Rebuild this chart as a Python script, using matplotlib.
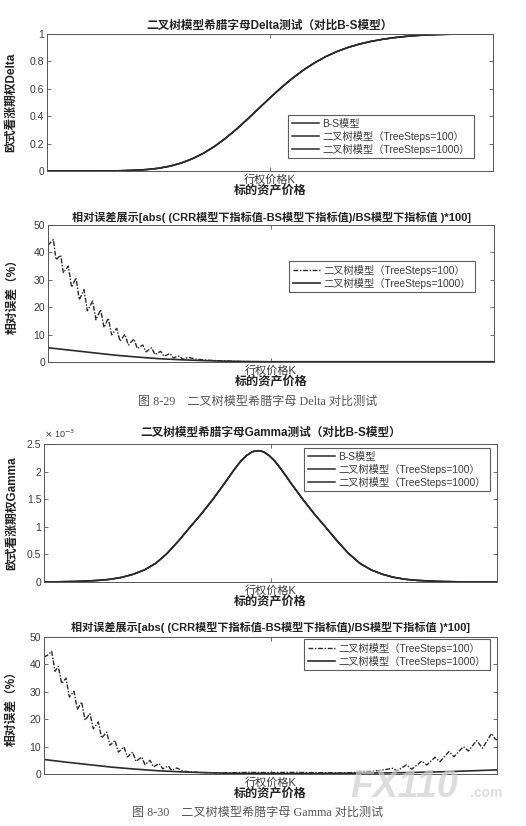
import matplotlib
matplotlib.use("Agg")
import matplotlib.pyplot as plt

plt.rcParams['font.family'] = ['Liberation Sans', 'Noto Sans CJK SC', 'DejaVu Sans']
plt.rcParams['axes.unicode_minus'] = False

# ---------------- data ----------------
# underlying price axis: 0..100, strike K at 50
delta_x = [0, 10, 15, 17.5, 20, 22.5, 25, 27.5, 30, 32.5, 35, 37.5, 40, 42.5, 45, 47.5,
           50, 52.5, 55, 57.5, 60, 62.5, 65, 67.5, 70, 72.5, 75, 77.5, 80, 82.5, 85, 87.5,
           90, 95, 100]
delta_bs = [0, 0, 0.001, 0.003, 0.006, 0.011, 0.02, 0.035, 0.057, 0.088, 0.128, 0.178, 0.238,
            0.306, 0.38, 0.457, 0.534, 0.608, 0.676, 0.737, 0.79, 0.835, 0.872, 0.902, 0.926,
            0.945, 0.96, 0.972, 0.981, 0.988, 0.993, 0.996, 0.998, 1.0, 1.0]
delta_tree100 = list(delta_bs)
delta_tree1000 = list(delta_bs)

err_delta_100_x = [0, 1.2, 1.8, 2.84, 3.44, 4.56, 5.3, 6.28, 7.03, 8.07, 8.82, 10.0, 10.76, 11.8,
                   12.56, 13.53, 14.27, 15.4, 16.14, 17.26, 18.01, 19.28, 20.03, 21.23, 21.97,
                   23.24, 23.99, 25.26, 26.01, 27.35, 28.1, 29.45, 30.2, 31.46, 33.3, 35.6, 37.8,
                   43, 50, 60, 70, 80, 90, 100]
err_delta_100 = [42.6, 44.7, 37.3, 39, 32.6, 35, 27.3, 30.7, 22.7, 26.4, 18.7, 22.2, 15.4, 19.1,
                 12.6, 16, 9.9, 12.3, 7.6, 10.1, 6.2, 8.4, 4.9, 6.2, 3.7, 5.2, 2.7, 3.9, 2.1, 3.1,
                 1.5, 2.2, 1.0, 1.7, 1.0, 0.7, 0.5, 0.2, 0.1, 0.05, 0.05, 0.05, 0.05, 0.05]
err_delta_1000_x = [0, 5, 10, 15, 20, 25, 30, 35, 40, 45, 50, 100]
err_delta_1000 = [5.2, 4.3, 3.4, 2.5, 1.8, 1.2, 0.8, 0.5, 0.3, 0.15, 0.1, 0.1]

gamma_x = [0, 2.2, 7.2, 12.2, 14.7, 17.2, 19.7, 22.2, 24.7, 27.2, 29.7, 32.2, 34.7, 37.2, 39.7,
           42.2, 43.45, 44.7, 45.95, 47.2, 48.45, 49.7, 50.95, 52.2, 54.7, 57.2, 59.7, 62.2,
           64.7, 67.2, 69.7, 72.2, 74.7, 77.2, 79.7, 82.2, 87.2, 92.2, 100]
gamma_bs = [0, 0.000003, 0.00001, 0.00003, 0.00005, 0.000085, 0.00014, 0.00022, 0.00034,
            0.00052, 0.000745, 0.00099, 0.00123, 0.00149, 0.00177, 0.00206, 0.00219, 0.00229,
            0.00236, 0.00238, 0.00236, 0.00229, 0.00219, 0.00206, 0.00177, 0.00149, 0.00123,
            0.00099, 0.000745, 0.00052, 0.00034, 0.00022, 0.00014, 0.000085, 0.00005, 0.00003,
            0.00001, 0.000003, 0]
gamma_tree100 = list(gamma_bs)
gamma_tree1000 = list(gamma_bs)

err_gamma_100_x = [0, 0.74, 1.69, 2.43, 3.16, 3.9, 4.86, 5.6, 6.62, 7.36, 8.32, 9.05, 10.15, 10.89,
                   11.99, 12.73, 13.83, 14.57, 15.67, 16.41, 17.66, 18.4, 19.57, 20.31, 21.56,
                   22.3, 23.4, 24.14, 25.46, 26.2, 27.45, 28.19, 29.3, 30.75, 32.97, 35.9, 40, 45,
                   50, 55, 60, 65, 70, 73.8, 77.1, 77.9, 80, 81.2, 83.4, 84.5, 86.3, 87.4, 89.4,
                   90.5, 92.6, 93.7, 95.5, 96.8, 98.8, 99.6, 100]
err_gamma_100 = [42.7, 43.3, 44.8, 37.5, 39.3, 33, 35, 28.1, 30.2, 23.6, 26.3, 19.6, 22, 16.5, 19,
                 13.1, 15.3, 10.5, 12.3, 8, 9.9, 6.2, 8, 4.6, 6.2, 3.4, 5, 2.6, 3.8, 1.9, 2.9, 1.3,
                 2.2, 1.0, 0.7, 0.5, 0.4, 0.6, 0.5, 0.6, 0.5, 0.4, 0.6, 1.2, 2.1, 1.1, 3.3, 1.8,
                 4.7, 3.3, 6.1, 4.5, 8.2, 6.3, 10, 8.4, 12.2, 9.4, 14.8, 12.7, 12.4]
err_gamma_1000_x = [0, 5, 10, 15, 20, 25, 30, 35, 40, 50, 60, 70, 80, 85, 90, 95, 100]
err_gamma_1000 = [5.3, 4.3, 3.4, 2.5, 1.8, 1.2, 0.8, 0.5, 0.3, 0.2, 0.2, 0.3, 0.5, 0.7, 0.9, 1.2, 1.5]

strike_tick = [50]
strike_label = ['行权价格K']
delta_yticks = [0, 0.2, 0.4, 0.6, 0.8, 1]
delta_yticklabels = ['0', '0.2', '0.4', '0.6', '0.8', '1']
err_yticks = [0, 10, 20, 30, 40, 50]
gamma_yticks = [0, 0.0005, 0.001, 0.0015, 0.002, 0.0025]
gamma_yticklabels = ['0', '0.5', '1', '1.5', '2', '2.5']

lab_bs = 'B-S模型'
lab_100 = '二叉树模型（TreeSteps=100）'
lab_1000 = '二叉树模型（TreeSteps=1000）'
err_title = '相对误差展示[abs( (CRR模型下指标值-BS模型下指标值)/BS模型下指标值 )*100]'

# ---------------- figure ----------------
W, H = 526, 826
fig = plt.figure(figsize=(W / 100, H / 100), dpi=100)
fig.patch.set_facecolor('white')

LC = '#2b2b2b'
TC = '#3a3a3a'
SC = '#555555'
DASHDOT = (0, (3.5, 1.2, 1.0, 1.2))


def px_axes(l, t, r, b):
    return fig.add_axes([l / W, 1 - b / H, (r - l) / W, (b - t) / H])


def style(ax, ylab, labx):
    ax.set_xlim(0, 100)
    ax.set_xticks(strike_tick)
    ax.set_xticklabels(strike_label)
    ax.tick_params(axis='both', direction='in', length=3, width=0.6, colors=SC,
                   top=True, right=True, labelsize=7.5, pad=2)
    ax.tick_params(axis='x', labelcolor=TC, pad=2, labelsize=8)
    ax.tick_params(axis='y', labelcolor=TC)
    for s in ax.spines.values():
        s.set_color(SC)
        s.set_linewidth(0.7)
    ax.set_xlabel('标的资产价格', fontsize=8.7, fontweight='bold', color='#222222', labelpad=0)
    ax.set_ylabel(ylab, fontsize=8.5, fontweight='bold', color='#222222')
    ax.yaxis.set_label_coords(labx, 0.5)


def legend(ax, handles, labels, x, y):
    lg = ax.legend(handles, labels, loc='upper left', bbox_to_anchor=(x / W, 1 - y / H),
                   bbox_transform=fig.transFigure, fontsize=7.4, frameon=True, fancybox=False,
                   handlelength=2.7, handletextpad=0.3, labelspacing=0.2, borderpad=0.35,
                   borderaxespad=0)
    lg.get_frame().set_edgecolor('#333333')
    lg.get_frame().set_linewidth(0.8)
    for t in lg.get_texts():
        t.set_color(TC)
    return lg


# ---- plot 1: Delta ----
ax1 = px_axes(47, 34, 493, 171)
l1, = ax1.plot(delta_x, delta_bs, color=LC, lw=1.1)
l2, = ax1.plot(delta_x, delta_tree100, color=LC, lw=1.1)
l3, = ax1.plot(delta_x, delta_tree1000, color=LC, lw=1.1)
ax1.set_ylim(0, 1)
ax1.set_yticks(delta_yticks)
ax1.set_yticklabels(delta_yticklabels)
style(ax1, '欧式看涨期权Delta', -0.066)
ax1.set_title('二叉树模型希腊字母Delta测试（对比B-S模型）', fontsize=8.4, fontweight='bold',
              color='#222222', pad=4)
legend(ax1, [l1, l2, l3], [lab_bs, lab_100, lab_1000], 288, 115)

# ---- plot 2: Delta errors ----
ax2 = px_axes(48, 225, 494, 362)
e1, = ax2.plot(err_delta_100_x, err_delta_100, color=LC, lw=1.0, ls=DASHDOT)
e2, = ax2.plot(err_delta_1000_x, err_delta_1000, color=LC, lw=1.2)
ax2.set_ylim(0, 50)
ax2.set_yticks(err_yticks)
style(ax2, '相对误差（%）', -0.066)
ax2.set_title(err_title, fontsize=8.0, fontweight='bold', color='#222222', pad=3)
legend(ax2, [e1, e2], [lab_100, lab_1000], 289, 261)

# ---- plot 3: Gamma ----
ax3 = px_axes(44, 444, 497, 582)
g1, = ax3.plot(gamma_x, gamma_bs, color=LC, lw=1.1)
g2, = ax3.plot(gamma_x, gamma_tree100, color=LC, lw=1.1)
g3, = ax3.plot(gamma_x, gamma_tree1000, color=LC, lw=1.1)
ax3.set_ylim(0, 0.0025)
ax3.set_yticks(gamma_yticks)
ax3.set_yticklabels(gamma_yticklabels)
style(ax3, '欧式看涨期权Gamma', -0.058)
ax3.set_title('二叉树模型希腊字母Gamma测试（对比B-S模型）', fontsize=8.4, fontweight='bold',
              color='#222222', pad=6)
ax3.text(0.0, 1.03, r'$\times$ 10$^{-3}$', transform=ax3.transAxes, fontsize=6.5,
         color=TC, ha='left', va='bottom')
legend(ax3, [g1, g2, g3], [lab_bs, lab_100, lab_1000], 304, 448)

# ---- plot 4: Gamma errors ----
ax4 = px_axes(44, 637, 497, 774)
f1, = ax4.plot(err_gamma_100_x, err_gamma_100, color=LC, lw=1.0, ls=DASHDOT)
f2, = ax4.plot(err_gamma_1000_x, err_gamma_1000, color=LC, lw=1.2)
ax4.set_ylim(0, 50)
ax4.set_yticks(err_yticks)
style(ax4, '相对误差（%）', -0.058)
ax4.set_title(err_title, fontsize=8.0, fontweight='bold', color='#222222', pad=4)
legend(ax4, [f1, f2], [lab_100, lab_1000], 304, 639)

# ---- captions ----
cap_font = ['Liberation Serif', 'Noto Sans CJK SC']
fig.text(258 / W, 1 - 402 / H, '图 8-29    二叉树模型希腊字母 Delta 对比测试', fontsize=8.7,
         family=cap_font, color='#555555', ha='center', va='center')
fig.text(258 / W, 1 - 813 / H, '图 8-30    二叉树模型希腊字母 Gamma 对比测试', fontsize=8.7,
         family=cap_font, color='#555555', ha='center', va='center')

# ---- watermark ----
fig.text(350 / W, 1 - 797 / H, 'FX110', fontsize=27, fontweight='bold', fontstyle='italic',
         color='#cfcfcf', alpha=0.7, ha='left', va='baseline', zorder=10)
fig.text(470 / W, 1 - 797 / H, '.com', fontsize=10, fontweight='bold',
         color='#cfcfcf', alpha=0.7, ha='left', va='baseline', zorder=10)

fig.savefig('out.png', dpi=100, facecolor='white')
